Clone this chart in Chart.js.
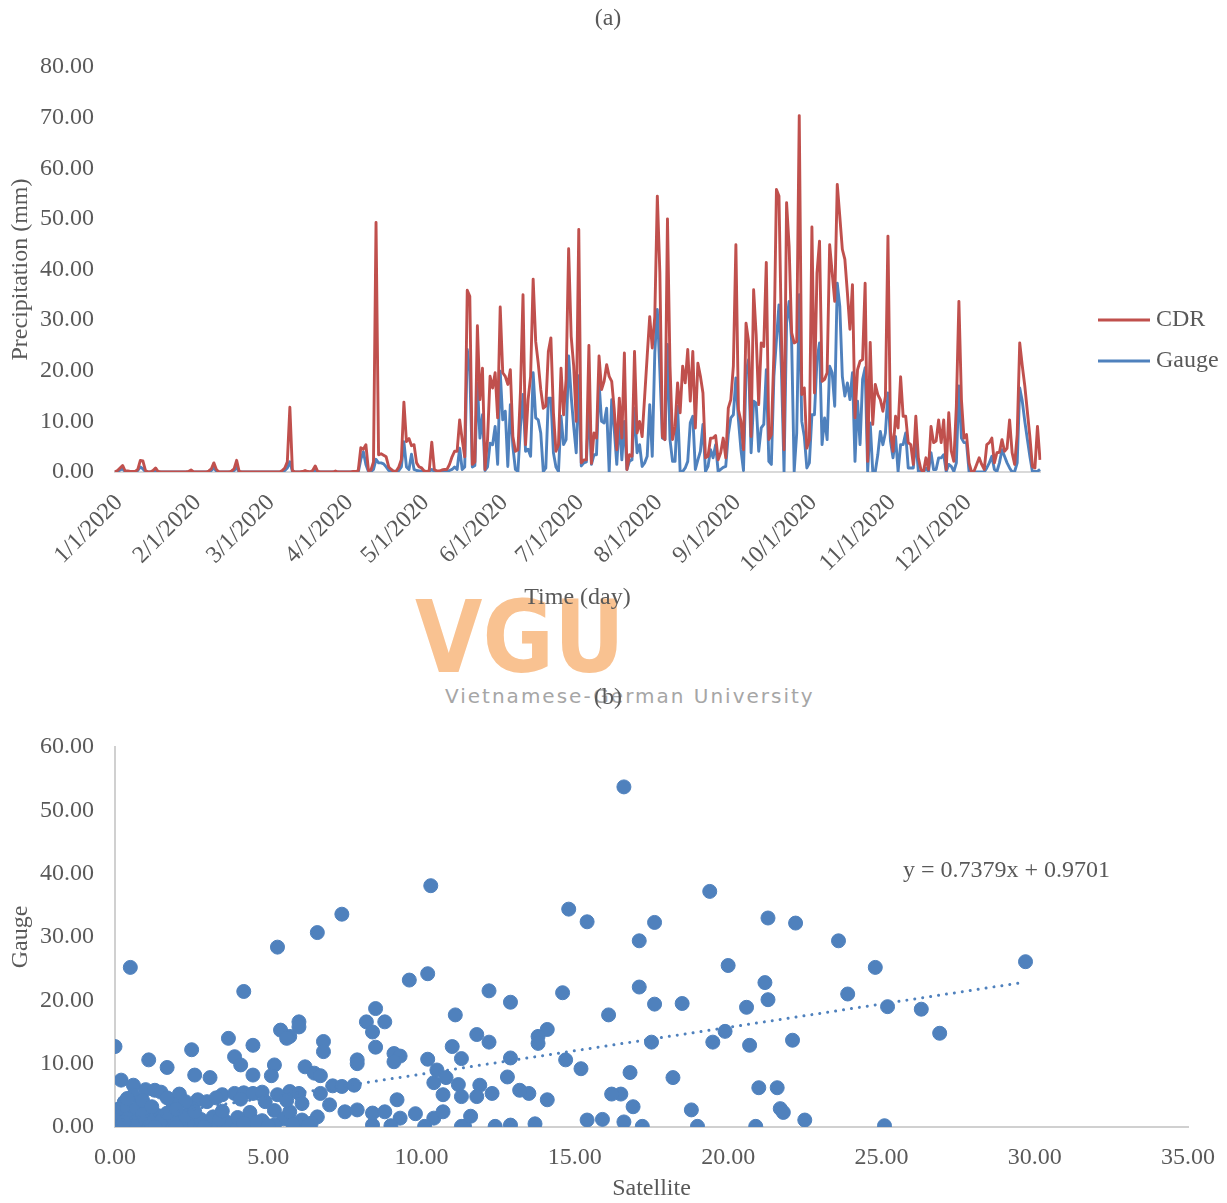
<!DOCTYPE html>
<html>
<head>
<meta charset="utf-8">
<title>CDR vs Gauge precipitation 2020</title>
<script src="https://cdn.jsdelivr.net/npm/chart.js@4.4.1/dist/chart.umd.min.js"></script>
<style>
  html, body { margin: 0; padding: 0; background: #fff; }
  body { width: 1227px; height: 1203px; position: relative; overflow: hidden; }
  canvas { position: absolute; left: 0; z-index: 2; }
  #series-chart { top: 0; }
  #scatter-chart { top: 680px; }
  #wm-logo {
    position: absolute; left: 415px; top: 588px; z-index: 1;
    font: bold 99px/99px "DejaVu Sans", sans-serif; color: #f9c291;
    transform: scaleX(0.88); transform-origin: left top;
  }
  #wm-text {
    position: absolute; left: 445px; top: 686px; z-index: 1;
    font: 20px/20px "DejaVu Sans", sans-serif; color: #a6a6a6;
    letter-spacing: 2px; white-space: nowrap;
  }
</style>
</head>
<body>
<div id="wm-logo">VGU</div>
<div id="wm-text">Vietnamese-German University</div>
<canvas id="series-chart" width="1227" height="640"></canvas>
<canvas id="scatter-chart" width="1227" height="523"></canvas>
<script>
// daily values, 1/1/2020 .. 12/31/2020, one row per month
const cdrValues = [
  0,0.3,0.8,1.3,0.2,0.2,0.1,0.1,0.1,0.5,2.3,2.2,0.3,0,0,0.3,0.8,0.1,0,0,0,0,0,0,0,0,0,0,0,0.1,0.4,
  0,0,0,0,0,0,0.2,0.6,1.8,0.5,0,0,0,0,0,0.2,0.6,2.3,0.1,0,0,0,0,0,0,0,0,0,0,
  0,0,0,0,0,0,0.3,0.8,2.0,12.8,0.3,0,0,0,0.1,0.3,0.1,0,0.3,1.2,0.1,0,0,0,0,0,0,0.2,0,0,0,
  0,0,0,0.1,0.1,0.3,4.8,4.5,5.4,0.3,0.4,2.0,49.3,3.4,3.6,3.3,3.0,1.0,0.5,0.1,0.2,1.0,2.5,13.8,6.0,6.6,5.2,5.4,1.8,1.0,
  0.8,0.2,0.1,0.3,5.9,0.5,0.2,0.2,0.4,0.5,0.5,1.5,3.0,4.1,4.1,10.3,6.4,3.0,35.9,34.7,1.5,2.0,28.9,14.3,20.5,0.5,6.4,18.9,16.6,19.6,10.7,
  32.6,19.6,18.9,17.3,20.2,7.0,4.1,4.4,16.0,35.0,5.4,14.3,18.9,38.1,25.8,21.5,16.3,12.6,13.0,23.8,26.5,11.7,4.1,5.4,20.5,11.3,18.3,44.1,26.8,20.9,
  10.0,47.9,1.8,2.4,2.4,25.0,1.7,7.7,6.7,22.9,16.3,17.9,21.2,18.9,17.9,12.3,4.4,14.6,6.7,23.5,0.5,3.4,3.1,23.8,7.7,10.0,7.0,14.9,22.9,30.7,24.5,
  30.7,54.5,39.3,7.0,6.4,50.0,20.9,6.4,9.0,17.6,11.7,20.9,17.6,24.2,14.0,23.8,8.7,21.5,18.9,15.6,2.8,3.1,6.7,6.7,7.2,2.4,3.8,6.7,2.8,12.6,14.3,
  20.9,44.9,12.3,10.0,4.4,29.4,25.8,7.0,36.0,27.1,13.3,25.5,24.8,41.4,6.4,7.4,23.5,55.8,54.5,26.1,4.4,53.2,44.6,27.5,25.5,25.8,70.4,15.3,16.6,4.7,
  6.4,48.4,15.6,39.3,45.6,17.9,18.3,19.6,44.9,39.3,33.7,56.8,50.5,44.0,42.0,35.4,28.2,37.0,10.7,20.2,21.9,22.2,37.3,2.1,25.6,9.4,17.3,15.3,14.3,12.0,14.9,
  46.6,8.0,4.1,11.0,8.7,18.8,11.0,11.0,5.8,5.4,1.5,11.0,2.8,0.5,0,2.8,0.5,9.0,5.8,6.1,10.3,5.8,10.3,0.5,11.7,4.1,2.1,13.0,33.7,14.3,
  6.7,7.4,1.8,0,0.2,1.5,2.8,1.5,0.5,5.4,5.8,6.7,1.8,3.8,3.9,6.4,4.1,4.7,10.3,3.8,1.5,7.4,25.5,21.0,17.0,12.0,7.0,1.1,0.8,9.0,2.4
];
const gaugeValues = [
  0,0.1,0.4,0.6,0.1,0,0,0,0,0.3,1.0,0.6,0.1,0,0,0.1,0.3,0,0,0,0,0,0,0,0,0,0,0,0,0,0.1,
  0,0,0,0,0,0,0,0.3,0.8,0.2,0,0,0,0,0,0,0.3,0.9,0,0,0,0,0,0,0,0,0,0,0,
  0,0,0,0,0,0,0,0.3,0.8,2.0,0.1,0,0,0,0,0,0,0,0,0.4,0,0,0,0,0,0,0,0,0,0,0,
  0,0,0,0,0,0,2.5,4.0,1.5,0.1,0.1,0.5,2.5,1.8,1.8,1.6,1.0,0.3,0.1,0,0,0.3,1.0,6.0,1.0,0.5,3.5,0.5,0.3,0.2,
  0.2,0,0,0.1,0.5,0.1,0,0,0,0.1,0.1,0.3,0.5,1.0,0.5,4.7,0.5,1.0,24.2,20.0,1.0,1.3,17.5,6.7,11.3,0.3,1.0,5.7,5.4,9.0,1.5,
  19.9,10.3,12.0,1.1,13.3,5.0,0.5,0.1,9.0,15.3,4.1,4.5,3.1,19.6,10.7,10.3,7.7,0.1,0.8,14.6,14.6,3.8,1.0,0.1,11.0,5.4,6.4,22.9,15.0,9.0,
  3.8,19.0,1.2,1.8,2.0,13.0,1.5,3.4,3.4,17.6,10.0,9.7,12.6,0,14.3,8.4,1.5,10.3,2.4,10.0,0.5,2.1,2.4,12.6,3.8,5.4,1.1,1.8,3.1,13.3,3.1,
  23.5,32.1,20.0,6.7,6.4,25.2,6.4,2.1,2.1,13.0,0.1,0.1,0.8,2.1,9.7,11.0,0.5,2.4,4.1,9.4,0.1,1.1,4.4,2.8,5.4,0.1,0.5,0.9,1.1,7.4,10.7,
  11.3,18.6,10.3,4.4,0.3,19.6,22.2,3.8,14.0,13.6,4.1,8.7,9.4,20.2,2.1,1.5,18.9,26.1,33.0,19.6,0.1,29.4,33.7,25.8,0.1,7.7,35.0,10.0,7.0,0.8,
  1.8,11.3,11.3,22.2,25.5,5.4,10.7,6.4,20.9,19.6,13.0,37.3,32.7,18.9,15.0,17.6,14.3,19.6,2.1,14.0,5.4,18.3,20.6,0.1,9.7,0.1,0.1,3.4,8.0,5.4,7.7,
  15.6,6.1,2.8,7.0,0.1,5.4,5.4,7.7,0.8,0.8,0.8,6.4,0.1,0.1,0,0.8,0.1,3.8,0.5,0.5,2.8,2.8,3.4,0.1,1.5,1.1,0.1,1.8,17.0,6.7,
  5.8,5.8,0.1,0,0,0,0,0,0,0.8,1.8,3.1,0.5,0.1,1.8,4.4,3.1,1.8,0.8,0,0.1,1.8,16.6,14.0,10.0,6.5,3.1,0.1,0.1,0.1,0.5
];
const monthTicks = ["1/1/2020", "2/1/2020", "3/1/2020", "4/1/2020", "5/1/2020", "6/1/2020",
  "7/1/2020", "8/1/2020", "9/1/2020", "10/1/2020", "11/1/2020", "12/1/2020"];

// scatter: satellite (x) against gauge (y), same order in both arrays
const satelliteObs = [
  16.6,10.3,19.4,14.8,15.4,7.4,6.6,5.3,17.1,17.6,
  21.3,22.2,23.6,24.8,29.7,20.0,23.9,26.3,26.9,25.2,
  20.6,21.2,21.3,19.9,19.5,18.5,17.6,17.1,16.1,17.5,
  16.8,18.2,20.7,22.1,21.0,21.6,21.7,21.8,22.5,18.8,
  19.0,20.9,25.1,17.2,16.9,16.5,16.2,16.6,15.9,15.4,
  15.2,14.7,14.6,14.1,13.8,13.8,14.1,13.7,13.5,13.2,
  12.9,12.2,12.2,12.9,12.8,12.9,12.4,11.8,11.1,11.0,
  11.3,10.2,10.5,10.4,10.8,11.2,10.7,11.3,11.9,11.8,
  12.3,9.8,9.3,10.4,10.7,11.3,11.4,11.6,10.1,9.0,
  8.4,9.6,10.2,8.5,8.2,8.8,8.4,8.5,9.1,9.3,
  9.1,7.9,7.9,6.8,6.8,6.0,6.0,5.7,6.2,6.5,
  6.7,7.1,7.4,7.8,5.7,6.0,6.7,6.1,7.0,7.5,
  7.9,8.4,8.8,9.2,0.5,4.2,0.0,1.1,1.7,2.5,
  3.7,4.5,3.9,4.1,5.4,5.6,5.2,5.1,4.5,2.6,
  3.1,0.2,0.6,1.0,1.3,1.5,2.1,0.6,3.5,3.9,
  4.2,4.5,4.8,5.3,2.7,3.0,2.5,0.3,0.8,0.1,
  1.9,1.4,4.4,5.2,5.5,5.7,6.1,6.6,6.4,5.9,
  0.0,0.1,0.2,0.3,0.4,0.5,0.6,0.7,0.8,0.9,
  1.0,1.2,1.4,1.6,1.8,2.0,2.2,2.4,2.6,2.8,
  3.0,3.2,3.4,3.6,3.8,4.0,4.3,4.6,4.9,5.2,
  0.0,0.2,0.5,0.4,0.9,1.2,0.7,0.1,0.4,0.7,
  1.1,1.5,1.9,2.3,2.8,3.2,3.6,4.0,4.8,5.8,
  6.3,0.0,0.3,0.6,1.3,2.0,2.9,3.4,4.6,5.0,
  0.0,0.0,0.1,0.2,0.3,0.9,1.7,2.6,3.5,4.2,
  0.4,0.9,1.7,2.3,3.3,4.1,4.9,5.6,1.2,2.0
];
const gaugeObs = [
  53.7,38.1,37.2,34.4,32.4,33.6,30.7,28.4,29.4,32.3,
  33.0,32.2,29.4,25.2,26.1,25.5,21.0,18.6,14.8,19.0,
  18.9,22.8,20.1,15.1,13.4,19.5,19.4,22.1,17.7,13.4,
  8.6,7.8,12.9,13.7,6.2,6.2,2.9,2.3,1.1,2.7,
  0.1,0.1,0.2,0.1,3.2,5.2,5.2,0.8,1.2,1.1,
  9.2,10.6,21.2,15.4,14.3,13.2,4.3,0.5,5.3,5.8,
  19.7,21.5,13.4,10.9,7.9,0.3,0.1,14.6,17.7,12.7,
  10.8,10.7,9.0,7.0,7.8,6.7,5.1,4.8,6.6,4.8,
  5.3,2.1,1.4,1.4,2.4,0.1,0.1,1.7,0.1,0.2,
  0.3,23.2,24.2,18.7,16.6,16.6,15.0,12.6,11.6,11.2,
  10.3,10.6,10.0,13.5,11.9,16.6,15.8,14.3,9.5,8.5,
  8.1,6.5,6.4,6.6,5.6,5.3,5.3,3.7,3.5,2.4,
  2.7,2.2,2.4,4.3,25.2,21.4,12.7,10.6,9.4,12.2,
  14.0,12.9,11.1,9.8,15.3,14.0,9.8,8.1,8.2,8.2,
  7.8,7.4,6.6,5.9,5.8,5.5,5.2,5.0,5.1,5.3,
  5.4,5.3,5.5,5.1,4.3,4.0,3.0,3.9,3.3,2.8,
  3.6,1.8,2.3,2.6,1.3,2.4,1.1,1.6,0.6,0.6,
  0.2,0.5,0.1,0.4,0.2,0.6,0.1,0.3,0.5,0.2,
  0.4,0.1,0.3,0.2,0.5,0.1,0.3,0.2,0.4,0.1,
  0.3,0.5,0.2,0.1,0.4,0.2,0.3,0.5,0.1,0.3,
  2.5,1.8,2.0,3.0,1.2,2.6,2.9,1.0,1.3,0.9,
  1.5,0.9,1.4,1.8,1.2,1.6,0.9,1.5,1.0,0.4,
  0.2,0.0,0.0,0.1,0.0,0.0,0.0,1.2,0.8,0.2,
  0.0,1.0,0.0,0.0,0.8,2.0,2.2,2.4,2.5,0.6,
  4.5,4.2,4.6,4.0,4.6,4.4,4.0,4.2,3.2,2.8
];
// linear trendline y = 0.7379x + 0.9701, ends
const trendX = [0, 29.65];
const trendY = [0.97, 22.85];

const textColor = "#595959";
const serif = '"Liberation Serif", "Times New Roman", serif';
Chart.defaults.font.family = serif;
Chart.defaults.font.size = 24;
Chart.defaults.color = textColor;

// day labels for the category axis
const dayLabels = [];
for (let d = new Date(2020, 0, 1); d.getFullYear() === 2020; d.setDate(d.getDate() + 1)) {
  dayLabels.push((d.getMonth() + 1) + "/" + d.getDate() + "/2020");
}

const textLabels = {
  id: "textLabels",
  afterDraw(chart, args, opts) {
    const ctx = chart.ctx;
    ctx.save();
    ctx.fillStyle = textColor;
    ctx.font = "24px " + serif;
    ctx.textBaseline = "middle";
    opts.items.forEach(function (item) {
      ctx.textAlign = item.align || "center";
      ctx.fillText(item.text, item.x, item.y);
    });
    ctx.restore();
  }
};

const lineLegend = {
  id: "lineLegend",
  afterDraw(chart) {
    const ctx = chart.ctx;
    chart.data.datasets.forEach(function (ds, i) {
      const y = 320 + i * 41;
      ctx.save();
      ctx.strokeStyle = ds.borderColor;
      ctx.lineWidth = 3;
      ctx.beginPath();
      ctx.moveTo(1098, y);
      ctx.lineTo(1150, y);
      ctx.stroke();
      ctx.fillStyle = textColor;
      ctx.font = "24px " + serif;
      ctx.textBaseline = "middle";
      ctx.textAlign = "left";
      ctx.fillText(ds.label, 1156, y);
      ctx.restore();
    });
  }
};

const twoDecimals = function (v) { return Number(v).toFixed(2); };

new Chart(document.getElementById("series-chart"), {
  type: "line",
  data: {
    labels: dayLabels,
    datasets: [
      { label: "CDR", data: cdrValues, borderColor: "#c0504d", borderWidth: 2.9 },
      { label: "Gauge", data: gaugeValues, borderColor: "#4f81bd", borderWidth: 2.9 }
    ]
  },
  options: {
    responsive: false,
    animation: false,
    events: [],
    layout: { padding: { top: 67, right: 187, bottom: 27.6, left: 0 } },
    elements: { point: { radius: 0 }, line: { tension: 0, borderJoinStyle: "round" } },
    plugins: {
      legend: { display: false },
      tooltip: { enabled: false },
      textLabels: { items: [{ text: "(a)", x: 608, y: 19 }] }
    },
    scales: {
      x: {
        grid: { display: false },
        border: { display: true, color: "#d9d9d9", width: 2 },
        ticks: {
          autoSkip: false,
          minRotation: 45,
          maxRotation: 45,
          padding: 9,
          labelOffset: 4,
          callback: function (value) {
            const lbl = this.getLabelForValue(value);
            return monthTicks.includes(lbl) ? lbl : "";
          }
        },
        title: { display: true, text: "Time (day)", padding: { top: 0, bottom: 0 } },
        afterFit: function (scale) { scale.height = 140.4; }
      },
      y: {
        min: 0,
        max: 80,
        grid: { display: false },
        border: { display: false },
        ticks: { stepSize: 10, padding: 13, callback: twoDecimals },
        title: { display: true, text: "Precipitation (mm)", padding: { top: 6, bottom: 0 } },
        afterFit: function (scale) { scale.width = 115; }
      }
    }
  },
  plugins: [textLabels, lineLegend]
});

new Chart(document.getElementById("scatter-chart"), {
  type: "scatter",
  data: {
    datasets: [
      {
        type: "line",
        label: "Linear (Gauge)",
        data: trendX.map(function (x, i) { return { x: x, y: trendY[i] }; }),
        borderColor: "#4f81bd",
        borderWidth: 3,
        borderDash: [0.01, 8],
        borderCapStyle: "round",
        pointRadius: 0,
        fill: false
      },
      {
        label: "Gauge",
        data: satelliteObs.map(function (x, i) { return { x: x, y: gaugeObs[i] }; }),
        backgroundColor: "#4f81bd",
        borderColor: "#4f81bd",
        borderWidth: 1,
        pointRadius: 7
      }
    ]
  },
  options: {
    responsive: false,
    animation: false,
    events: [],
    layout: { padding: { top: 67, right: 39, bottom: 0, left: 0 } },
    plugins: {
      legend: { display: false },
      tooltip: { enabled: false },
      textLabels: {
        items: [
          { text: "(b)", x: 608, y: 18 },
          { text: "y = 0.7379x + 0.9701", x: 903, y: 191, align: "left" }
        ]
      }
    },
    scales: {
      x: {
        type: "linear",
        min: 0,
        max: 35,
        grid: { display: false },
        border: { display: true, color: "#d0d0d0", width: 2 },
        ticks: { stepSize: 5, padding: 8, callback: twoDecimals },
        title: { display: true, text: "Satellite", padding: { top: 0, bottom: 0 } },
        afterFit: function (scale) { scale.height = 76; }
      },
      y: {
        min: 0,
        max: 60,
        grid: { display: false },
        border: { display: true, color: "#d0d0d0", width: 2 },
        ticks: { stepSize: 10, padding: 13, callback: twoDecimals },
        title: { display: true, text: "Gauge", padding: { top: 6, bottom: 0 } },
        afterFit: function (scale) { scale.width = 115; }
      }
    }
  },
  plugins: [textLabels]
});
</script>
</body>
</html>
